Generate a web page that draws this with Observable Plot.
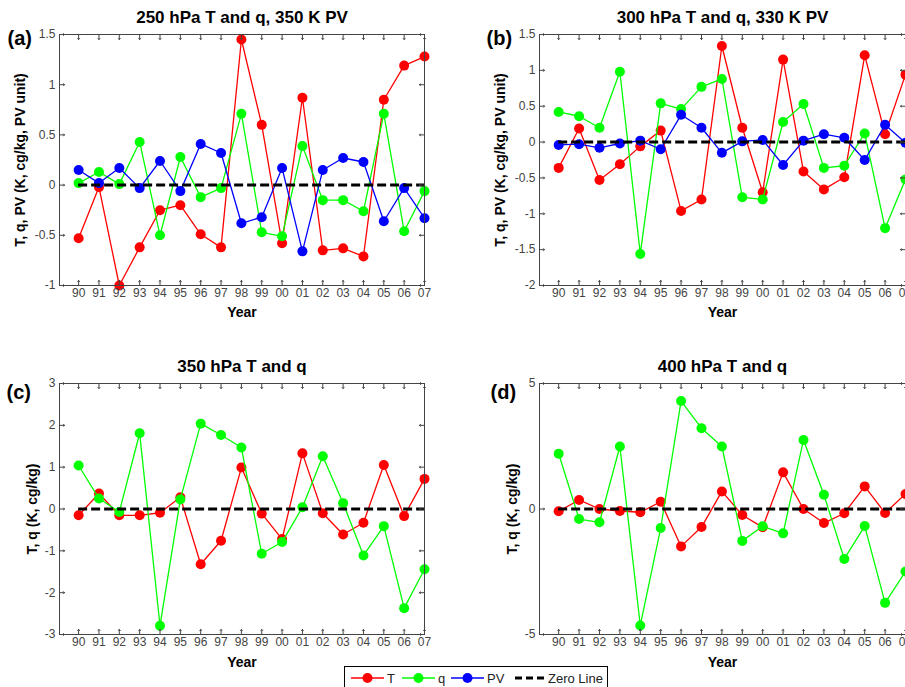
<!DOCTYPE html>
<html>
<head>
<meta charset="utf-8">
<script src="https://cdn.jsdelivr.net/npm/d3@7"></script>
<script src="https://cdn.jsdelivr.net/npm/@observablehq/plot@0.6"></script>
<style>
  html, body { margin: 0; padding: 0; background: #fff; }
  #root { position: relative; width: 905px; height: 687px; overflow: hidden; background: #fff; font-family: "Liberation Sans", Arial, sans-serif; }
  .panel { position: absolute; }
  #legend { position: absolute; left: 344px; top: 666px; width: 264px; height: 24px; border: 1px solid #000; background: #fff; box-sizing: border-box; }
  #legend .item { position: absolute; top: 0; height: 22px; display: flex; align-items: center; font-size: 13px; color: #222; }
</style>
</head>
<body>
<div id="root"></div>
<script>
// ---------- data ----------
const years = [90, 91, 92, 93, 94, 95, 96, 97, 98, 99, 100, 101, 102, 103, 104, 105, 106, 107];
const yearLabels = ["90","91","92","93","94","95","96","97","98","99","00","01","02","03","04","05","06","07"];

// (a) 250 hPa T and q, 350 K PV
const a_T  = [-0.53, -0.02, -1.00, -0.62, -0.25, -0.20, -0.49, -0.62, 1.45, 0.60, -0.58, 0.87, -0.65, -0.63, -0.71, 0.85, 1.19, 1.28];
const a_q  = [0.02, 0.13, 0.01, 0.43, -0.50, 0.28, -0.12, -0.03, 0.71, -0.47, -0.51, 0.39, -0.15, -0.15, -0.26, 0.71, -0.46, -0.06];
const a_PV = [0.15, 0.02, 0.17, -0.03, 0.24, -0.06, 0.41, 0.32, -0.38, -0.32, 0.17, -0.66, 0.15, 0.27, 0.23, -0.36, -0.03, -0.33];

// (b) 300 hPa T and q, 330 K PV
const b_T  = [-0.36, 0.19, -0.53, -0.31, -0.06, 0.16, -0.96, -0.80, 1.34, 0.20, -0.70, 1.15, -0.41, -0.66, -0.49, 1.21, 0.11, 0.94];
const b_q  = [0.42, 0.36, 0.20, 0.98, -1.56, 0.54, 0.46, 0.77, 0.88, -0.77, -0.80, 0.28, 0.53, -0.36, -0.33, 0.12, -1.20, -0.52];
const b_PV = [-0.04, -0.03, -0.08, -0.02, 0.02, -0.10, 0.38, 0.20, -0.15, 0.01, 0.03, -0.32, 0.02, 0.11, 0.06, -0.25, 0.24, -0.01];

// (c) 350 hPa T and q
const c_T = [-0.15, 0.37, -0.15, -0.15, -0.09, 0.28, -1.32, -0.76, 0.99, -0.11, -0.72, 1.33, -0.10, -0.61, -0.33, 1.05, -0.17, 0.72];
const c_q = [1.04, 0.25, -0.07, 1.81, -2.79, 0.23, 2.04, 1.77, 1.47, -1.07, -0.79, 0.04, 1.26, 0.14, -1.11, -0.41, -2.37, -1.44];

// (d) 400 hPa T and q
const d_T = [-0.09, 0.36, 0.00, -0.08, -0.13, 0.29, -1.49, -0.72, 0.70, -0.24, -0.73, 1.46, 0.00, -0.56, -0.17, 0.90, -0.16, 0.60];
const d_q = [2.20, -0.40, -0.53, 2.49, -4.64, -0.76, 4.30, 3.22, 2.49, -1.27, -0.69, -0.97, 2.75, 0.57, -1.99, -0.68, -3.74, -2.49];

const ticksA = [-1, -0.5, 0, 0.5, 1, 1.5];
const ticksB = [-2, -1.5, -1, -0.5, 0, 0.5, 1, 1.5];
const ticksC = [-3, -2, -1, 0, 1, 2, 3];
const ticksD = [-5, 0, 5];

const seriesColors = { T: "#ff0000", q: "#00ff00", PV: "#0000ff" };
const xDomain = [89.06, 107];
const fmtYear = d => yearLabels[years.indexOf(d)];
const fmtY = d => String(d);

function panel(cfg) {
  const [ymin, ymax] = cfg.yDomain;
  const [xmin, xmax] = xDomain;
  const marks = [];
  const series = [["T", cfg.T], ["q", cfg.q]];
  if (cfg.PV) series.push(["PV", cfg.PV]);
  for (const [name, vals] of series) {
    const data = years.map((yr, i) => ({ year: yr, v: vals[i] }));
    marks.push(Plot.line(data, { x: "year", y: "v", stroke: seriesColors[name], strokeWidth: 1.3 }));
    marks.push(Plot.dot(data, { x: "year", y: "v", r: 5, fill: seriesColors[name], stroke: null }));
  }
  // zero line
  marks.push(Plot.ruleY([0], { x1: years[0], x2: years[years.length - 1], stroke: "#000", strokeWidth: 3, strokeDasharray: "9,4" }));
  // frame and inward ticks
  marks.push(Plot.frame({ stroke: "#444", strokeWidth: 1 }));
  const tickStyle = { length: 5, anchor: "start", stroke: "#444", strokeWidth: 1 };
  marks.push(Plot.vector(years, { x: d => d, y: ymin, rotate: 0, ...tickStyle }));
  marks.push(Plot.vector(years, { x: d => d, y: ymax, rotate: 180, ...tickStyle }));
  marks.push(Plot.vector(cfg.yTicks, { x: xmin, y: d => d, rotate: 90, ...tickStyle }));
  marks.push(Plot.vector(cfg.yTicks, { x: xmax, y: d => d, rotate: -90, ...tickStyle }));
  // axes labels
  marks.push(Plot.axisX(years, { anchor: "bottom", tickSize: 0, tickPadding: 3, tickFormat: fmtYear, fontSize: 12, fill: "#444", label: null }));
  marks.push(Plot.axisY(cfg.yTicks, { anchor: "left", tickSize: 0, tickPadding: 4, tickFormat: fmtY, fontSize: 12, fill: "#444", label: null }));
  // texts
  marks.push(Plot.text([cfg.title], { frameAnchor: "top", textAnchor: "middle", lineAnchor: "middle", dy: cfg.titleDy, fontSize: 17, fontWeight: "bold", fill: "#000" }));
  marks.push(Plot.text([cfg.tag], { frameAnchor: "top-left", textAnchor: "start", lineAnchor: "middle", dx: cfg.tagDx, dy: cfg.tagDy, fontSize: 20, fontWeight: "bold", fill: "#000" }));
  marks.push(Plot.text([cfg.ylabel], { frameAnchor: "left", rotate: -90, textAnchor: "middle", lineAnchor: "middle", dx: cfg.ylabelDx, fontSize: 14, fontWeight: "bold", fill: "#000" }));
  marks.push(Plot.text(["Year"], { frameAnchor: "bottom", textAnchor: "middle", lineAnchor: "middle", dy: cfg.yearDy, fontSize: 14, fontWeight: "bold", fill: "#000" }));

  const chart = Plot.plot({
    width: cfg.width,
    height: cfg.height,
    marginLeft: cfg.ml, marginRight: cfg.mr, marginTop: cfg.mt, marginBottom: cfg.mb,
    style: { fontFamily: '"Liberation Sans", Arial, sans-serif', background: "transparent", overflow: "hidden" },
    x: { type: "linear", domain: xDomain },
    y: { type: "linear", domain: cfg.yDomain },
    marks
  });
  const wrap = document.createElement("div");
  wrap.className = "panel";
  wrap.style.left = cfg.left + "px";
  wrap.style.top = cfg.top + "px";
  wrap.appendChild(chart);
  document.getElementById("root").appendChild(wrap);
}

panel({ T: a_T, q: a_q, PV: a_PV, yDomain: [-1, 1.5], yTicks: ticksA,
  title: "250 hPa T and q, 350 K PV", tag: "(a)", ylabel: "T, q, PV (K, cg/kg, PV unit)",
  left: 0, top: 0, width: 450, height: 330, ml: 59, mr: 26, mt: 34, mb: 45,
  titleDy: -17, tagDx: -52, tagDy: 4, ylabelDx: -39, yearDy: 27 });

panel({ T: b_T, q: b_q, PV: b_PV, yDomain: [-2, 1.5], yTicks: ticksB,
  title: "300 hPa T and q, 330 K PV", tag: "(b)", ylabel: "T, q, PV (K, cg/kg, PV unit)",
  left: 450, top: 0, width: 455, height: 330, ml: 89, mr: 0, mt: 34, mb: 45,
  titleDy: -17, tagDx: -53, tagDy: 4, ylabelDx: -39, yearDy: 27 });

panel({ T: c_T, q: c_q, yDomain: [-3, 3], yTicks: ticksC,
  title: "350 hPa T and q", tag: "(c)", ylabel: "T, q (K, cg/kg)",
  left: 0, top: 330, width: 450, height: 357, ml: 59, mr: 26, mt: 53, mb: 53,
  titleDy: -17, tagDx: -53, tagDy: 9, ylabelDx: -27, yearDy: 28 });

panel({ T: d_T, q: d_q, yDomain: [-5, 5], yTicks: ticksD,
  title: "400 hPa T and q", tag: "(d)", ylabel: "T, q (K, cg/kg)",
  left: 450, top: 330, width: 455, height: 357, ml: 89, mr: 0, mt: 53, mb: 53,
  titleDy: -17, tagDx: -49, tagDy: 9, ylabelDx: -27, yearDy: 28 });

// ---------- legend ----------
const legendItems = [
  { label: "T", color: seriesColors.T, marker: true, x: 6, w: 33 },
  { label: "q", color: seriesColors.q, marker: true, x: 57, w: 33 },
  { label: "PV", color: seriesColors.PV, marker: true, x: 106, w: 33 },
  { label: "Zero Line", color: "#000", marker: false, x: 170, w: 30 }
];
const legend = document.createElement("div");
legend.id = "legend";
for (const it of legendItems) {
  const item = document.createElement("div");
  item.className = "item";
  item.style.left = it.x + "px";
  const svgNS = "http://www.w3.org/2000/svg";
  const svg = document.createElementNS(svgNS, "svg");
  svg.setAttribute("width", it.w);
  svg.setAttribute("height", 12);
  const ln = document.createElementNS(svgNS, "line");
  ln.setAttribute("x1", 0); ln.setAttribute("x2", it.w);
  ln.setAttribute("y1", 6); ln.setAttribute("y2", 6);
  ln.setAttribute("stroke", it.color);
  if (it.marker) {
    ln.setAttribute("stroke-width", 1.3);
    svg.appendChild(ln);
    const c = document.createElementNS(svgNS, "circle");
    c.setAttribute("cx", it.w / 2); c.setAttribute("cy", 6); c.setAttribute("r", 5);
    c.setAttribute("fill", it.color);
    svg.appendChild(c);
  } else {
    ln.setAttribute("stroke-width", 3);
    ln.setAttribute("stroke-dasharray", "7,4");
    svg.appendChild(ln);
  }
  item.appendChild(svg);
  const t = document.createElement("span");
  t.textContent = it.label;
  t.style.marginLeft = "3px";
  item.appendChild(t);
  legend.appendChild(item);
}
document.getElementById("root").appendChild(legend);
</script>
</body>
</html>
